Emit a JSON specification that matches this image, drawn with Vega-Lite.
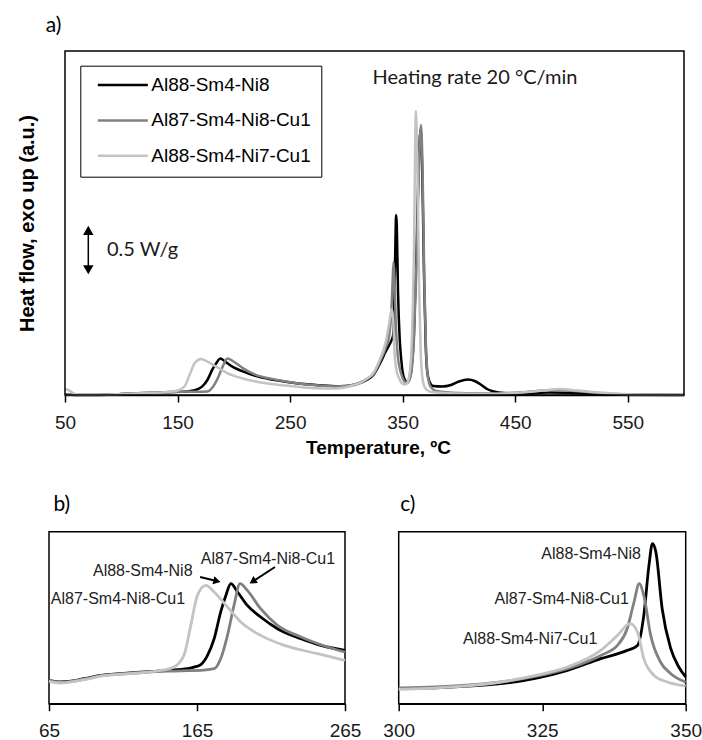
{
  "$schema": "https://vega.github.io/schema/vega-lite/v6.json",
  "background": "white",
  "padding": {"left": 16, "top": 14, "right": 0, "bottom": 0},
  "config": {
    "view": {"stroke": "black", "strokeWidth": 1.5},
    "axis": {"grid": false, "domainColor": "black", "domainWidth": 1.5, "tickColor": "black", "tickWidth": 1.5, "tickSize": 7, "labelFont": "Liberation Sans", "labelFontSize": 19, "labelColor": "#1a1a1a", "labelPadding": 11, "labelFlush": false, "titleColor": "black"},
    "title": {"font": "Lato", "fontSize": 21, "fontWeight": "normal", "anchor": "start", "color": "black"}
  },
  "datasets": {
    "a": [
      {"alloy":"Al88-Sm4-Ni8","T":50,"hf":0.005},{"alloy":"Al88-Sm4-Ni8","T":55,"hf":0.002},{"alloy":"Al88-Sm4-Ni8","T":60,"hf":0},{"alloy":"Al88-Sm4-Ni8","T":70,"hf":0},{"alloy":"Al88-Sm4-Ni8","T":88,"hf":0.002},{"alloy":"Al88-Sm4-Ni8","T":100,"hf":0.01},{"alloy":"Al88-Sm4-Ni8","T":122,"hf":0.02},{"alloy":"Al88-Sm4-Ni8","T":145,"hf":0.03},{"alloy":"Al88-Sm4-Ni8","T":158,"hf":0.036},{"alloy":"Al88-Sm4-Ni8","T":164,"hf":0.045},{"alloy":"Al88-Sm4-Ni8","T":168,"hf":0.058},{"alloy":"Al88-Sm4-Ni8","T":172,"hf":0.086},{"alloy":"Al88-Sm4-Ni8","T":176.5,"hf":0.15},{"alloy":"Al88-Sm4-Ni8","T":181,"hf":0.256},{"alloy":"Al88-Sm4-Ni8","T":184.5,"hf":0.32},{"alloy":"Al88-Sm4-Ni8","T":188,"hf":0.365},{"alloy":"Al88-Sm4-Ni8","T":192.4,"hf":0.334},{"alloy":"Al88-Sm4-Ni8","T":199,"hf":0.281},{"alloy":"Al88-Sm4-Ni8","T":208,"hf":0.236},{"alloy":"Al88-Sm4-Ni8","T":219,"hf":0.191},{"alloy":"Al88-Sm4-Ni8","T":235,"hf":0.152},{"alloy":"Al88-Sm4-Ni8","T":249,"hf":0.128},{"alloy":"Al88-Sm4-Ni8","T":265,"hf":0.107},{"alloy":"Al88-Sm4-Ni8","T":280,"hf":0.094},{"alloy":"Al88-Sm4-Ni8","T":290,"hf":0.087},{"alloy":"Al88-Sm4-Ni8","T":300,"hf":0.09},{"alloy":"Al88-Sm4-Ni8","T":310,"hf":0.11},{"alloy":"Al88-Sm4-Ni8","T":318,"hf":0.15},{"alloy":"Al88-Sm4-Ni8","T":324,"hf":0.2},{"alloy":"Al88-Sm4-Ni8","T":329.4,"hf":0.305},{"alloy":"Al88-Sm4-Ni8","T":335.2,"hf":0.44},{"alloy":"Al88-Sm4-Ni8","T":338.1,"hf":0.5},{"alloy":"Al88-Sm4-Ni8","T":339.8,"hf":0.54},{"alloy":"Al88-Sm4-Ni8","T":341.6,"hf":0.6},{"alloy":"Al88-Sm4-Ni8","T":342.7,"hf":0.95},{"alloy":"Al88-Sm4-Ni8","T":343.6,"hf":1.54},{"alloy":"Al88-Sm4-Ni8","T":344.2,"hf":1.8},{"alloy":"Al88-Sm4-Ni8","T":344.8,"hf":1.7},{"alloy":"Al88-Sm4-Ni8","T":345.9,"hf":1.03},{"alloy":"Al88-Sm4-Ni8","T":347.4,"hf":0.56},{"alloy":"Al88-Sm4-Ni8","T":348.8,"hf":0.35},{"alloy":"Al88-Sm4-Ni8","T":350,"hf":0.23},{"alloy":"Al88-Sm4-Ni8","T":352,"hf":0.15},{"alloy":"Al88-Sm4-Ni8","T":354,"hf":0.13},{"alloy":"Al88-Sm4-Ni8","T":356,"hf":0.16},{"alloy":"Al88-Sm4-Ni8","T":358,"hf":0.28},{"alloy":"Al88-Sm4-Ni8","T":360,"hf":0.6},{"alloy":"Al88-Sm4-Ni8","T":362,"hf":1.3},{"alloy":"Al88-Sm4-Ni8","T":364,"hf":2.2},{"alloy":"Al88-Sm4-Ni8","T":366,"hf":2.66},{"alloy":"Al88-Sm4-Ni8","T":367.5,"hf":2.2},{"alloy":"Al88-Sm4-Ni8","T":369,"hf":1.2},{"alloy":"Al88-Sm4-Ni8","T":370.5,"hf":0.5},{"alloy":"Al88-Sm4-Ni8","T":372,"hf":0.22},{"alloy":"Al88-Sm4-Ni8","T":374,"hf":0.13},{"alloy":"Al88-Sm4-Ni8","T":377,"hf":0.09},{"alloy":"Al88-Sm4-Ni8","T":385,"hf":0.085},{"alloy":"Al88-Sm4-Ni8","T":393,"hf":0.1},{"alloy":"Al88-Sm4-Ni8","T":400,"hf":0.135},{"alloy":"Al88-Sm4-Ni8","T":408,"hf":0.155},{"alloy":"Al88-Sm4-Ni8","T":414,"hf":0.14},{"alloy":"Al88-Sm4-Ni8","T":420,"hf":0.1},{"alloy":"Al88-Sm4-Ni8","T":425,"hf":0.06},{"alloy":"Al88-Sm4-Ni8","T":431,"hf":0.035},{"alloy":"Al88-Sm4-Ni8","T":440,"hf":0.02},{"alloy":"Al88-Sm4-Ni8","T":460,"hf":0.015},{"alloy":"Al88-Sm4-Ni8","T":480,"hf":0.025},{"alloy":"Al88-Sm4-Ni8","T":500,"hf":0.02},{"alloy":"Al88-Sm4-Ni8","T":520,"hf":0.01},{"alloy":"Al88-Sm4-Ni8","T":540,"hf":0.003},{"alloy":"Al88-Sm4-Ni8","T":600,"hf":0},
      {"alloy":"Al87-Sm4-Ni8-Cu1","T":50,"hf":0.005},{"alloy":"Al87-Sm4-Ni8-Cu1","T":55,"hf":0.002},{"alloy":"Al87-Sm4-Ni8-Cu1","T":60,"hf":0},{"alloy":"Al87-Sm4-Ni8-Cu1","T":70,"hf":0},{"alloy":"Al87-Sm4-Ni8-Cu1","T":88,"hf":0.002},{"alloy":"Al87-Sm4-Ni8-Cu1","T":100,"hf":0.01},{"alloy":"Al87-Sm4-Ni8-Cu1","T":122,"hf":0.02},{"alloy":"Al87-Sm4-Ni8-Cu1","T":145,"hf":0.028},{"alloy":"Al87-Sm4-Ni8-Cu1","T":158,"hf":0.034},{"alloy":"Al87-Sm4-Ni8-Cu1","T":167.6,"hf":0.032},{"alloy":"Al87-Sm4-Ni8-Cu1","T":176.6,"hf":0.036},{"alloy":"Al87-Sm4-Ni8-Cu1","T":181,"hf":0.075},{"alloy":"Al87-Sm4-Ni8-Cu1","T":185.6,"hf":0.165},{"alloy":"Al87-Sm4-Ni8-Cu1","T":190,"hf":0.281},{"alloy":"Al87-Sm4-Ni8-Cu1","T":194.3,"hf":0.365},{"alloy":"Al87-Sm4-Ni8-Cu1","T":199,"hf":0.34},{"alloy":"Al87-Sm4-Ni8-Cu1","T":208,"hf":0.269},{"alloy":"Al87-Sm4-Ni8-Cu1","T":219,"hf":0.204},{"alloy":"Al87-Sm4-Ni8-Cu1","T":235,"hf":0.159},{"alloy":"Al87-Sm4-Ni8-Cu1","T":249,"hf":0.129},{"alloy":"Al87-Sm4-Ni8-Cu1","T":265,"hf":0.104},{"alloy":"Al87-Sm4-Ni8-Cu1","T":280,"hf":0.092},{"alloy":"Al87-Sm4-Ni8-Cu1","T":290,"hf":0.086},{"alloy":"Al87-Sm4-Ni8-Cu1","T":300,"hf":0.09},{"alloy":"Al87-Sm4-Ni8-Cu1","T":310,"hf":0.115},{"alloy":"Al87-Sm4-Ni8-Cu1","T":318,"hf":0.16},{"alloy":"Al87-Sm4-Ni8-Cu1","T":324,"hf":0.21},{"alloy":"Al87-Sm4-Ni8-Cu1","T":329.4,"hf":0.325},{"alloy":"Al87-Sm4-Ni8-Cu1","T":335.2,"hf":0.48},{"alloy":"Al87-Sm4-Ni8-Cu1","T":338.1,"hf":0.6},{"alloy":"Al87-Sm4-Ni8-Cu1","T":339.8,"hf":0.8},{"alloy":"Al87-Sm4-Ni8-Cu1","T":341,"hf":1.11},{"alloy":"Al87-Sm4-Ni8-Cu1","T":341.9,"hf":1.33},{"alloy":"Al87-Sm4-Ni8-Cu1","T":342.7,"hf":1.19},{"alloy":"Al87-Sm4-Ni8-Cu1","T":343.9,"hf":0.72},{"alloy":"Al87-Sm4-Ni8-Cu1","T":345.6,"hf":0.4},{"alloy":"Al87-Sm4-Ni8-Cu1","T":347.4,"hf":0.27},{"alloy":"Al87-Sm4-Ni8-Cu1","T":350,"hf":0.17},{"alloy":"Al87-Sm4-Ni8-Cu1","T":352,"hf":0.13},{"alloy":"Al87-Sm4-Ni8-Cu1","T":354,"hf":0.12},{"alloy":"Al87-Sm4-Ni8-Cu1","T":356,"hf":0.15},{"alloy":"Al87-Sm4-Ni8-Cu1","T":358,"hf":0.25},{"alloy":"Al87-Sm4-Ni8-Cu1","T":360,"hf":0.55},{"alloy":"Al87-Sm4-Ni8-Cu1","T":362,"hf":1.2},{"alloy":"Al87-Sm4-Ni8-Cu1","T":364,"hf":2.1},{"alloy":"Al87-Sm4-Ni8-Cu1","T":366.3,"hf":2.7},{"alloy":"Al87-Sm4-Ni8-Cu1","T":367.8,"hf":2.2},{"alloy":"Al87-Sm4-Ni8-Cu1","T":369.3,"hf":1.1},{"alloy":"Al87-Sm4-Ni8-Cu1","T":370.8,"hf":0.45},{"alloy":"Al87-Sm4-Ni8-Cu1","T":372.5,"hf":0.18},{"alloy":"Al87-Sm4-Ni8-Cu1","T":375,"hf":0.08},{"alloy":"Al87-Sm4-Ni8-Cu1","T":380,"hf":0.04},{"alloy":"Al87-Sm4-Ni8-Cu1","T":400,"hf":0.02},{"alloy":"Al87-Sm4-Ni8-Cu1","T":430,"hf":0.015},{"alloy":"Al87-Sm4-Ni8-Cu1","T":460,"hf":0.03},{"alloy":"Al87-Sm4-Ni8-Cu1","T":485,"hf":0.05},{"alloy":"Al87-Sm4-Ni8-Cu1","T":510,"hf":0.035},{"alloy":"Al87-Sm4-Ni8-Cu1","T":530,"hf":0.015},{"alloy":"Al87-Sm4-Ni8-Cu1","T":555,"hf":0.003},{"alloy":"Al87-Sm4-Ni8-Cu1","T":600,"hf":0},
      {"alloy":"Al88-Sm4-Ni7-Cu1","T":50,"hf":0.06},{"alloy":"Al88-Sm4-Ni7-Cu1","T":53,"hf":0.05},{"alloy":"Al88-Sm4-Ni7-Cu1","T":57,"hf":0.02},{"alloy":"Al88-Sm4-Ni7-Cu1","T":61,"hf":0.003},{"alloy":"Al88-Sm4-Ni7-Cu1","T":70,"hf":0},{"alloy":"Al88-Sm4-Ni7-Cu1","T":88,"hf":0.002},{"alloy":"Al88-Sm4-Ni7-Cu1","T":100,"hf":0.01},{"alloy":"Al88-Sm4-Ni7-Cu1","T":122,"hf":0.02},{"alloy":"Al88-Sm4-Ni7-Cu1","T":140.5,"hf":0.03},{"alloy":"Al88-Sm4-Ni7-Cu1","T":149.5,"hf":0.043},{"alloy":"Al88-Sm4-Ni7-Cu1","T":156.3,"hf":0.088},{"alloy":"Al88-Sm4-Ni7-Cu1","T":160.8,"hf":0.204},{"alloy":"Al88-Sm4-Ni7-Cu1","T":165.3,"hf":0.32},{"alloy":"Al88-Sm4-Ni7-Cu1","T":171,"hf":0.36},{"alloy":"Al88-Sm4-Ni7-Cu1","T":176.6,"hf":0.333},{"alloy":"Al88-Sm4-Ni7-Cu1","T":185.6,"hf":0.275},{"alloy":"Al88-Sm4-Ni7-Cu1","T":194.6,"hf":0.217},{"alloy":"Al88-Sm4-Ni7-Cu1","T":208,"hf":0.165},{"alloy":"Al88-Sm4-Ni7-Cu1","T":224,"hf":0.126},{"alloy":"Al88-Sm4-Ni7-Cu1","T":246.5,"hf":0.094},{"alloy":"Al88-Sm4-Ni7-Cu1","T":265,"hf":0.072},{"alloy":"Al88-Sm4-Ni7-Cu1","T":280,"hf":0.064},{"alloy":"Al88-Sm4-Ni7-Cu1","T":290,"hf":0.064},{"alloy":"Al88-Sm4-Ni7-Cu1","T":300,"hf":0.08},{"alloy":"Al88-Sm4-Ni7-Cu1","T":310,"hf":0.11},{"alloy":"Al88-Sm4-Ni7-Cu1","T":318,"hf":0.16},{"alloy":"Al88-Sm4-Ni7-Cu1","T":324,"hf":0.22},{"alloy":"Al88-Sm4-Ni7-Cu1","T":329.4,"hf":0.345},{"alloy":"Al88-Sm4-Ni7-Cu1","T":335.2,"hf":0.54},{"alloy":"Al88-Sm4-Ni7-Cu1","T":338.1,"hf":0.72},{"alloy":"Al88-Sm4-Ni7-Cu1","T":340.3,"hf":0.86},{"alloy":"Al88-Sm4-Ni7-Cu1","T":341.6,"hf":0.76},{"alloy":"Al88-Sm4-Ni7-Cu1","T":342.7,"hf":0.44},{"alloy":"Al88-Sm4-Ni7-Cu1","T":344.5,"hf":0.25},{"alloy":"Al88-Sm4-Ni7-Cu1","T":346.8,"hf":0.17},{"alloy":"Al88-Sm4-Ni7-Cu1","T":349,"hf":0.12},{"alloy":"Al88-Sm4-Ni7-Cu1","T":352,"hf":0.105},{"alloy":"Al88-Sm4-Ni7-Cu1","T":354,"hf":0.12},{"alloy":"Al88-Sm4-Ni7-Cu1","T":356,"hf":0.2},{"alloy":"Al88-Sm4-Ni7-Cu1","T":358,"hf":0.5},{"alloy":"Al88-Sm4-Ni7-Cu1","T":360,"hf":1.4},{"alloy":"Al88-Sm4-Ni7-Cu1","T":361.8,"hf":2.84},{"alloy":"Al88-Sm4-Ni7-Cu1","T":363.2,"hf":2.2},{"alloy":"Al88-Sm4-Ni7-Cu1","T":364.6,"hf":1.1},{"alloy":"Al88-Sm4-Ni7-Cu1","T":366,"hf":0.45},{"alloy":"Al88-Sm4-Ni7-Cu1","T":367.5,"hf":0.18},{"alloy":"Al88-Sm4-Ni7-Cu1","T":370,"hf":0.07},{"alloy":"Al88-Sm4-Ni7-Cu1","T":374,"hf":0.035},{"alloy":"Al88-Sm4-Ni7-Cu1","T":380,"hf":0.025},{"alloy":"Al88-Sm4-Ni7-Cu1","T":400,"hf":0.015},{"alloy":"Al88-Sm4-Ni7-Cu1","T":430,"hf":0.01},{"alloy":"Al88-Sm4-Ni7-Cu1","T":455,"hf":0.025},{"alloy":"Al88-Sm4-Ni7-Cu1","T":475,"hf":0.045},{"alloy":"Al88-Sm4-Ni7-Cu1","T":490,"hf":0.06},{"alloy":"Al88-Sm4-Ni7-Cu1","T":505,"hf":0.045},{"alloy":"Al88-Sm4-Ni7-Cu1","T":525,"hf":0.025},{"alloy":"Al88-Sm4-Ni7-Cu1","T":545,"hf":0.01},{"alloy":"Al88-Sm4-Ni7-Cu1","T":565,"hf":0.003},{"alloy":"Al88-Sm4-Ni7-Cu1","T":600,"hf":0}
    ],
    "b": [
      {"alloy":"Al88-Sm4-Ni8","T":65,"hf":0.233},{"alloy":"Al88-Sm4-Ni8","T":72.9,"hf":0.217},{"alloy":"Al88-Sm4-Ni8","T":80,"hf":0.225},{"alloy":"Al88-Sm4-Ni8","T":88.7,"hf":0.25},{"alloy":"Al88-Sm4-Ni8","T":100,"hf":0.283},{"alloy":"Al88-Sm4-Ni8","T":122.5,"hf":0.31},{"alloy":"Al88-Sm4-Ni8","T":145,"hf":0.333},{"alloy":"Al88-Sm4-Ni8","T":158.6,"hf":0.35},{"alloy":"Al88-Sm4-Ni8","T":164,"hf":0.37},{"alloy":"Al88-Sm4-Ni8","T":167.6,"hf":0.39},{"alloy":"Al88-Sm4-Ni8","T":172,"hf":0.48},{"alloy":"Al88-Sm4-Ni8","T":176.6,"hf":0.65},{"alloy":"Al88-Sm4-Ni8","T":181,"hf":0.917},{"alloy":"Al88-Sm4-Ni8","T":184.5,"hf":1.083},{"alloy":"Al88-Sm4-Ni8","T":187.9,"hf":1.2},{"alloy":"Al88-Sm4-Ni8","T":192.4,"hf":1.117},{"alloy":"Al88-Sm4-Ni8","T":199,"hf":0.983},{"alloy":"Al88-Sm4-Ni8","T":208,"hf":0.867},{"alloy":"Al88-Sm4-Ni8","T":219.4,"hf":0.75},{"alloy":"Al88-Sm4-Ni8","T":235.2,"hf":0.65},{"alloy":"Al88-Sm4-Ni8","T":248.7,"hf":0.583},{"alloy":"Al88-Sm4-Ni8","T":265,"hf":0.533},
      {"alloy":"Al87-Sm4-Ni8-Cu1","T":65,"hf":0.233},{"alloy":"Al87-Sm4-Ni8-Cu1","T":72.9,"hf":0.213},{"alloy":"Al87-Sm4-Ni8-Cu1","T":88.7,"hf":0.245},{"alloy":"Al87-Sm4-Ni8-Cu1","T":100,"hf":0.28},{"alloy":"Al87-Sm4-Ni8-Cu1","T":122.5,"hf":0.305},{"alloy":"Al87-Sm4-Ni8-Cu1","T":145,"hf":0.325},{"alloy":"Al87-Sm4-Ni8-Cu1","T":158.6,"hf":0.33},{"alloy":"Al87-Sm4-Ni8-Cu1","T":167.6,"hf":0.333},{"alloy":"Al87-Sm4-Ni8-Cu1","T":176.6,"hf":0.35},{"alloy":"Al87-Sm4-Ni8-Cu1","T":181,"hf":0.45},{"alloy":"Al87-Sm4-Ni8-Cu1","T":185.6,"hf":0.683},{"alloy":"Al87-Sm4-Ni8-Cu1","T":190,"hf":0.983},{"alloy":"Al87-Sm4-Ni8-Cu1","T":194.1,"hf":1.2},{"alloy":"Al87-Sm4-Ni8-Cu1","T":199,"hf":1.133},{"alloy":"Al87-Sm4-Ni8-Cu1","T":208,"hf":0.95},{"alloy":"Al87-Sm4-Ni8-Cu1","T":219.4,"hf":0.783},{"alloy":"Al87-Sm4-Ni8-Cu1","T":235.2,"hf":0.667},{"alloy":"Al87-Sm4-Ni8-Cu1","T":248.7,"hf":0.59},{"alloy":"Al87-Sm4-Ni8-Cu1","T":265,"hf":0.517},
      {"alloy":"Al88-Sm4-Ni7-Cu1","T":65,"hf":0.223},{"alloy":"Al88-Sm4-Ni7-Cu1","T":72.9,"hf":0.207},{"alloy":"Al88-Sm4-Ni7-Cu1","T":88.7,"hf":0.24},{"alloy":"Al88-Sm4-Ni7-Cu1","T":100,"hf":0.275},{"alloy":"Al88-Sm4-Ni7-Cu1","T":122.5,"hf":0.305},{"alloy":"Al88-Sm4-Ni7-Cu1","T":140.5,"hf":0.333},{"alloy":"Al88-Sm4-Ni7-Cu1","T":149.5,"hf":0.367},{"alloy":"Al88-Sm4-Ni7-Cu1","T":156.3,"hf":0.49},{"alloy":"Al88-Sm4-Ni7-Cu1","T":160.8,"hf":0.783},{"alloy":"Al88-Sm4-Ni7-Cu1","T":165.3,"hf":1.083},{"alloy":"Al88-Sm4-Ni7-Cu1","T":171,"hf":1.183},{"alloy":"Al88-Sm4-Ni7-Cu1","T":176.6,"hf":1.117},{"alloy":"Al88-Sm4-Ni7-Cu1","T":185.6,"hf":0.967},{"alloy":"Al88-Sm4-Ni7-Cu1","T":194.6,"hf":0.817},{"alloy":"Al88-Sm4-Ni7-Cu1","T":208,"hf":0.683},{"alloy":"Al88-Sm4-Ni7-Cu1","T":224,"hf":0.583},{"alloy":"Al88-Sm4-Ni7-Cu1","T":246.5,"hf":0.5},{"alloy":"Al88-Sm4-Ni7-Cu1","T":265,"hf":0.433}
    ],
    "c": [
      {"alloy":"Al88-Sm4-Ni8","T":300,"hf":0.15},{"alloy":"Al88-Sm4-Ni8","T":309.1,"hf":0.167},{"alloy":"Al88-Sm4-Ni8","T":317.8,"hf":0.2},{"alloy":"Al88-Sm4-Ni8","T":323.6,"hf":0.25},{"alloy":"Al88-Sm4-Ni8","T":329.4,"hf":0.333},{"alloy":"Al88-Sm4-Ni8","T":335.2,"hf":0.45},{"alloy":"Al88-Sm4-Ni8","T":339.8,"hf":0.533},{"alloy":"Al88-Sm4-Ni8","T":341.6,"hf":0.583},{"alloy":"Al88-Sm4-Ni8","T":342.7,"hf":0.883},{"alloy":"Al88-Sm4-Ni8","T":343.6,"hf":1.383},{"alloy":"Al88-Sm4-Ni8","T":344.2,"hf":1.6},{"alloy":"Al88-Sm4-Ni8","T":344.8,"hf":1.517},{"alloy":"Al88-Sm4-Ni8","T":345.9,"hf":0.95},{"alloy":"Al88-Sm4-Ni8","T":347.4,"hf":0.55},{"alloy":"Al88-Sm4-Ni8","T":348.8,"hf":0.367},{"alloy":"Al88-Sm4-Ni8","T":350,"hf":0.267},
      {"alloy":"Al87-Sm4-Ni8-Cu1","T":300,"hf":0.157},{"alloy":"Al87-Sm4-Ni8-Cu1","T":309,"hf":0.175},{"alloy":"Al87-Sm4-Ni8-Cu1","T":317.8,"hf":0.217},{"alloy":"Al87-Sm4-Ni8-Cu1","T":323.6,"hf":0.27},{"alloy":"Al87-Sm4-Ni8-Cu1","T":329.4,"hf":0.35},{"alloy":"Al87-Sm4-Ni8-Cu1","T":335.2,"hf":0.483},{"alloy":"Al87-Sm4-Ni8-Cu1","T":338.1,"hf":0.583},{"alloy":"Al87-Sm4-Ni8-Cu1","T":339.8,"hf":0.75},{"alloy":"Al87-Sm4-Ni8-Cu1","T":341,"hf":1.017},{"alloy":"Al87-Sm4-Ni8-Cu1","T":341.9,"hf":1.2},{"alloy":"Al87-Sm4-Ni8-Cu1","T":342.7,"hf":1.083},{"alloy":"Al87-Sm4-Ni8-Cu1","T":343.9,"hf":0.683},{"alloy":"Al87-Sm4-Ni8-Cu1","T":345.6,"hf":0.417},{"alloy":"Al87-Sm4-Ni8-Cu1","T":347.4,"hf":0.3},{"alloy":"Al87-Sm4-Ni8-Cu1","T":350,"hf":0.217},
      {"alloy":"Al88-Sm4-Ni7-Cu1","T":300,"hf":0.143},{"alloy":"Al88-Sm4-Ni7-Cu1","T":309,"hf":0.165},{"alloy":"Al88-Sm4-Ni7-Cu1","T":317.8,"hf":0.217},{"alloy":"Al88-Sm4-Ni7-Cu1","T":323.6,"hf":0.28},{"alloy":"Al88-Sm4-Ni7-Cu1","T":329.4,"hf":0.367},{"alloy":"Al88-Sm4-Ni7-Cu1","T":335.2,"hf":0.533},{"alloy":"Al88-Sm4-Ni7-Cu1","T":338.1,"hf":0.683},{"alloy":"Al88-Sm4-Ni7-Cu1","T":340.3,"hf":0.8},{"alloy":"Al88-Sm4-Ni7-Cu1","T":341.6,"hf":0.717},{"alloy":"Al88-Sm4-Ni7-Cu1","T":342.7,"hf":0.45},{"alloy":"Al88-Sm4-Ni7-Cu1","T":344.5,"hf":0.283},{"alloy":"Al88-Sm4-Ni7-Cu1","T":346.8,"hf":0.217},{"alloy":"Al88-Sm4-Ni7-Cu1","T":350,"hf":0.177}
    ]
  },
  "bounds": "flush",
  "spacing": 136.7,
  "resolve": {"scale": {"color": "independent"}, "legend": {"color": "independent"}},
  "vconcat": [
    {
      "width": 635,
      "height": 344,
      "view": {"stroke": null},
      "title": {"text": "a)", "dx": 28.7, "offset": 0, "dy": 2.4, "baseline": "alphabetic"},
      "layer": [
        {
          "data": {"name": "a"},
          "mark": {"type": "line", "interpolate": "monotone", "strokeWidth": 2.5},
          "encoding": {
            "x": {"field": "T", "type": "quantitative",
                  "scale": {"domain": [50, 600], "range": [16, 635], "nice": false, "zero": false},
                  "axis": {"title": "Temperature, ºC", "values": [50, 150, 250, 350, 450, 550], "titleFont": "Liberation Sans", "titleFontSize": 19, "titleFontWeight": "bold", "titleBaseline": "alphabetic", "titleY": 58.4, "titleX": 329}},
            "y": {"field": "hf", "type": "quantitative",
                  "scale": {"domain": [0, 3.44], "nice": false, "zero": false},
                  "axis": {"title": "Heat flow, exo up (a.u.)", "labels": false, "ticks": false, "domain": false, "titleFont": "Liberation Sans", "titleFontSize": 20, "titleFontWeight": "bold", "titleAngle": 270, "titleBaseline": "alphabetic", "titleX": -16}},
            "color": {"field": "alloy", "type": "nominal",
                      "scale": {"domain": ["Al88-Sm4-Ni8", "Al87-Sm4-Ni8-Cu1", "Al88-Sm4-Ni7-Cu1"], "range": ["#000000", "#808080", "#c3c3c3"]},
                      "legend": {"title": null, "orient": "none", "legendX": 31.3, "legendY": 14.7, "symbolType": "stroke", "symbolSize": 2500, "symbolStrokeWidth": 2.5, "labelFont": "Liberation Sans", "labelFontSize": 19, "labelColor": "#000000", "labelLimit": 300, "labelOffset": 2, "strokeColor": "black", "fillColor": "white", "padding": 10, "clipHeight": 18.6, "rowPadding": 15.4, "symbolOffset": 6}}
          }
        },
        {
          "data": {"values": [{}]},
          "mark": {"type": "text", "text": "Heating rate 20 °C/min", "font": "Lato", "fontSize": 20, "align": "center", "baseline": "middle", "color": "#1a1a1a"},
          "encoding": {"x": {"datum": 414.3}, "y": {"datum": 3.166}}
        },
        {
          "data": {"values": [{}]},
          "mark": {"type": "text", "text": "0.5 W/g", "font": "Lato", "fontSize": 20, "align": "left", "baseline": "middle", "color": "#1a1a1a"},
          "encoding": {"x": {"datum": 87.3}, "y": {"datum": 1.453}}
        },
        {
          "data": {"values": [{}]},
          "mark": {"type": "rule", "color": "black", "strokeWidth": 1.5},
          "encoding": {"x": {"datum": 70.7}, "y": {"datum": 1.646}, "y2": {"datum": 1.253}}
        },
        {
          "data": {"values": [{}]},
          "mark": {"type": "point", "shape": "triangle-up", "filled": true, "size": 110, "color": "black", "opacity": 1},
          "encoding": {"x": {"datum": 70.7}, "y": {"datum": 1.646}}
        },
        {
          "data": {"values": [{}]},
          "mark": {"type": "point", "shape": "triangle-down", "filled": true, "size": 110, "color": "black", "opacity": 1},
          "encoding": {"x": {"datum": 70.7}, "y": {"datum": 1.253}}
        },
        {
          "data": {"values": [{}]},
          "mark": {"type": "rect", "filled": false, "stroke": "black", "strokeWidth": 1.5},
          "encoding": {"x": {"datum": 50}, "x2": {"datum": 600}, "y": {"datum": 0}, "y2": {"datum": 3.44}}
        }
      ]
    },
    {
      "bounds": "flush",
      "spacing": 53.7,
      "resolve": {"scale": {"color": "independent"}, "legend": {"color": "independent"}},
      "hconcat": [
        {
          "width": 296,
          "height": 172,
          "title": {"text": "b)", "dx": 15, "offset": 0, "dy": 0, "baseline": "alphabetic"},
          "layer": [
            {
              "data": {"name": "b"},
              "mark": {"type": "line", "interpolate": "monotone", "strokeWidth": 2.8},
              "encoding": {
                "x": {"field": "T", "type": "quantitative", "scale": {"domain": [65, 265], "nice": false, "zero": false}, "axis": {"title": null, "values": [65, 165, 265]}},
                "y": {"field": "hf", "type": "quantitative", "scale": {"domain": [0, 1.72], "nice": false, "zero": false}, "axis": null},
                "color": {"field": "alloy", "type": "nominal", "scale": {"domain": ["Al88-Sm4-Ni8", "Al87-Sm4-Ni8-Cu1", "Al88-Sm4-Ni7-Cu1"], "range": ["#000000", "#808080", "#c3c3c3"]}, "legend": null}
              }
            },
            {
              "data": {"values": [{}]},
              "mark": {"type": "text", "text": "Al87-Sm4-Ni8-Cu1", "font": "Liberation Sans", "fontSize": 16, "align": "left", "baseline": "middle", "color": "#222222"},
              "encoding": {"x": {"datum": 167.6}, "y": {"datum": 1.45}}
            },
            {
              "data": {"values": [{}]},
              "mark": {"type": "text", "text": "Al88-Sm4-Ni8", "font": "Liberation Sans", "fontSize": 16, "align": "right", "baseline": "middle", "color": "#222222"},
              "encoding": {"x": {"datum": 162}, "y": {"datum": 1.324}}
            },
            {
              "data": {"values": [{}]},
              "mark": {"type": "text", "text": "Al87-Sm4-Ni8-Cu1", "font": "Liberation Sans", "fontSize": 16, "align": "left", "baseline": "middle", "color": "#222222"},
              "encoding": {"x": {"datum": 66.2}, "y": {"datum": 1.044}}
            },
            {
              "data": {"values": [{}]},
              "mark": {"type": "rule", "color": "black", "strokeWidth": 2},
              "encoding": {"x": {"datum": 167.1}, "y": {"datum": 1.267}, "x2": {"datum": 177.5}, "y2": {"datum": 1.23}}
            },
            {
              "data": {"values": [{}]},
              "mark": {"type": "point", "shape": "triangle-right", "angle": 13.6, "filled": true, "size": 70, "color": "black", "opacity": 1},
              "encoding": {"x": {"datum": 178.5}, "y": {"datum": 1.226}}
            },
            {
              "data": {"values": [{}]},
              "mark": {"type": "rule", "color": "black", "strokeWidth": 2},
              "encoding": {"x": {"datum": 217.7}, "y": {"datum": 1.367}, "x2": {"datum": 203.5}, "y2": {"datum": 1.23}}
            },
            {
              "data": {"values": [{}]},
              "mark": {"type": "point", "shape": "triangle-right", "angle": 147, "filled": true, "size": 70, "color": "black", "opacity": 1},
              "encoding": {"x": {"datum": 202.6}, "y": {"datum": 1.222}}
            }
          ]
        },
        {
          "width": 287,
          "height": 172,
          "title": {"text": "c)", "dx": 17.3, "offset": 0, "dy": 0, "baseline": "alphabetic"},
          "layer": [
            {
              "data": {"name": "c"},
              "mark": {"type": "line", "interpolate": "monotone", "strokeWidth": 2.8},
              "encoding": {
                "x": {"field": "T", "type": "quantitative", "scale": {"domain": [300, 350], "nice": false, "zero": false}, "axis": {"title": null, "values": [300, 325, 350]}},
                "y": {"field": "hf", "type": "quantitative", "scale": {"domain": [0, 1.72], "nice": false, "zero": false}, "axis": null},
                "color": {"field": "alloy", "type": "nominal", "scale": {"domain": ["Al88-Sm4-Ni8", "Al87-Sm4-Ni8-Cu1", "Al88-Sm4-Ni7-Cu1"], "range": ["#000000", "#808080", "#c3c3c3"]}, "legend": null}
              }
            },
            {
              "data": {"values": [{}]},
              "mark": {"type": "text", "text": "Al88-Sm4-Ni8", "font": "Liberation Sans", "fontSize": 16, "align": "right", "baseline": "middle", "color": "#222222"},
              "encoding": {"x": {"datum": 342.2}, "y": {"datum": 1.5}}
            },
            {
              "data": {"values": [{}]},
              "mark": {"type": "text", "text": "Al87-Sm4-Ni8-Cu1", "font": "Liberation Sans", "fontSize": 16, "align": "right", "baseline": "middle", "color": "#222222"},
              "encoding": {"x": {"datum": 340.1}, "y": {"datum": 1.05}}
            },
            {
              "data": {"values": [{}]},
              "mark": {"type": "text", "text": "Al88-Sm4-Ni7-Cu1", "font": "Liberation Sans", "fontSize": 16, "align": "right", "baseline": "middle", "color": "#222222"},
              "encoding": {"x": {"datum": 334.6}, "y": {"datum": 0.65}}
            }
          ]
        }
      ]
    }
  ]
}
